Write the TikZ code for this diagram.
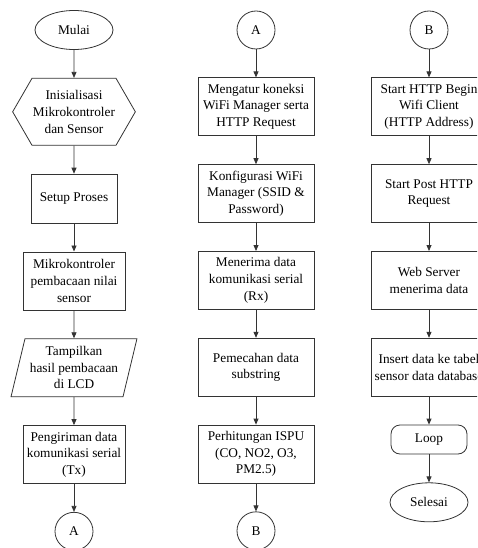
\documentclass[tikz,border=0pt]{standalone}
\usepackage{fontspec}
\setmainfont{Liberation Serif}
\usetikzlibrary{arrows.meta,positioning,shapes.geometric,shapes.symbols}

\begin{document}
\begin{tikzpicture}[
  x=1pt, y=1pt,
  font=\fontsize{13.3}{16.7}\selectfont,
  node distance=28pt,
  line/.style={draw=black!80, line width=0.8pt},
  term/.style={ellipse, line, minimum width=78pt, minimum height=39pt, inner sep=1pt},
  proc/.style={rectangle, line, minimum height=58pt, align=center, inner sep=2pt},
  hexa/.style={signal, signal to=west and east, signal pointer angle=120, line,
    minimum width=117pt, minimum height=67pt, align=center, inner sep=1pt},
  io/.style={trapezium, trapezium left angle=74, trapezium right angle=106,
    trapezium stretches=true, line, minimum width=126pt, minimum height=58pt,
    align=center, inner sep=1pt},
  conn/.style={circle, line, minimum size=38pt, inner sep=0pt},
  loopbox/.style={rectangle, rounded corners=9pt, line, minimum width=76pt, minimum height=29pt},
  arr/.style={-{Triangle[length=6pt,width=5pt]}, draw=black!80, line width=0.8pt}
]
  \useasboundingbox (0,0) rectangle (477,-548);
  \clip (0,0) rectangle (477,-548);

  % column 1: start to connector A
  \node[term] (mulai) at (74,-30) {Mulai};
  \node[hexa, below=of mulai] (init) {Inisialisasi\\Mikrokontroler\\dan Sensor};
  \node[proc, minimum width=86pt, minimum height=49pt, below=of init] (setup) {Setup Proses};
  \node[proc, minimum width=102pt, below=of setup] (baca) {Mikrokontroler\\pembacaan nilai\\sensor};
  \node[io, below=of baca] (lcd) {Tampilkan\\hasil pembacaan\\di LCD};
  \node[proc, minimum width=102pt, below=of lcd] (kirim) {Pengiriman data\\komunikasi serial\\(Tx)};
  \node[conn, below=of kirim] (ka) {A};

  % column 2: connector A to connector B
  \node[conn] (ma) at (256,-30) {A};
  \node[proc, minimum width=116pt, below=of ma] (wifi) {Mengatur koneksi\\WiFi Manager serta\\HTTP Request};
  \node[proc, minimum width=116pt, below=of wifi] (konf) {Konfigurasi WiFi\\Manager (SSID \&\\Password)};
  \node[proc, minimum width=116pt, below=of konf] (terima) {Menerima data\\komunikasi serial\\(Rx)};
  \node[proc, minimum width=116pt, below=of terima] (pecah) {Pemecahan data\\substring};
  \node[proc, minimum width=116pt, below=of pecah] (ispu) {Perhitungan ISPU\\(CO, NO2, O3,\\PM2.5)};
  \node[conn, below=of ispu] (kb) {B};

  % column 3: connector B to end
  \node[conn] (mb) at (429,-30) {B};
  \node[proc, minimum width=116pt, below=of mb] (begin) {Start HTTP Begin\\Wifi Client\\(HTTP Address)};
  \node[proc, minimum width=116pt, below=of begin] (post) {Start Post HTTP\\Request};
  \node[proc, minimum width=116pt, below=of post] (server) {Web Server\\menerima data};
  \node[proc, minimum width=116pt, below=of server] (insert) {Insert data ke tabel\\sensor data database};
  \node[loopbox, below=of insert] (loop) {Loop};
  \node[term, below=of loop] (selesai) {Selesai};

  \draw[arr] (mulai) -- (init);
  \draw[arr] (init) -- (setup);
  \draw[arr] (setup) -- (baca);
  \draw[arr] (baca) -- (lcd);
  \draw[arr] (lcd) -- (kirim);
  \draw[arr] (kirim) -- (ka);

  \draw[arr] (ma) -- (wifi);
  \draw[arr] (wifi) -- (konf);
  \draw[arr] (konf) -- (terima);
  \draw[arr] (terima) -- (pecah);
  \draw[arr] (pecah) -- (ispu);
  \draw[arr] (ispu) -- (kb);

  \draw[arr] (mb) -- (begin);
  \draw[arr] (begin) -- (post);
  \draw[arr] (post) -- (server);
  \draw[arr] (server) -- (insert);
  \draw[arr] (insert) -- (loop);
  \draw[arr] (loop) -- (selesai);
\end{tikzpicture}
\end{document}
